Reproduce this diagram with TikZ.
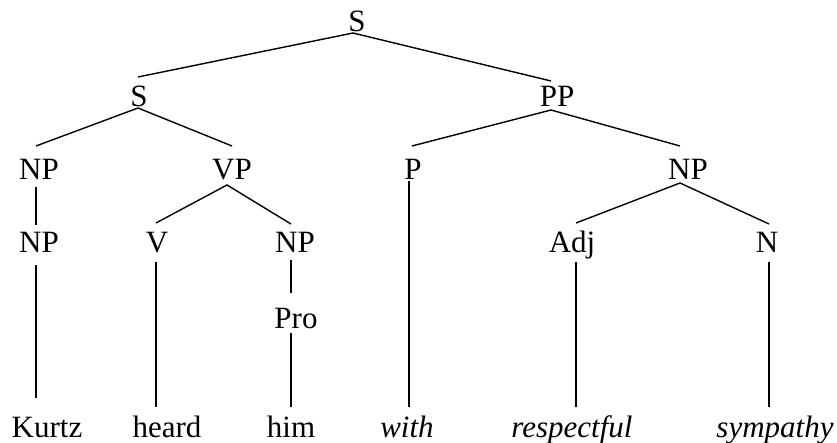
\documentclass[tikz,border=0pt]{standalone}
\usepackage{fontspec}
\setmainfont{Liberation Serif}
\begin{document}
\begin{tikzpicture}[x=1pt,y=-1pt,
  lab/.style={anchor=base,inner sep=0pt,font=\fontsize{31}{36}\selectfont},
  word/.style={lab},
  branch/.style={line width=1.4pt,line cap=butt}]
\useasboundingbox (0,0) rectangle (837,443);

% category labels
\node[lab] (S0)  at (357,32)  {S};
\node[lab] (S1)  at (139,107) {S};
\node[lab] (PP)  at (557,107) {PP};
\node[lab] (NP1) at (39,180)  {NP};
\node[lab] (VP)  at (232,180) {VP};
\node[lab] (P)   at (413,180) {P};
\node[lab] (NP4) at (688,180) {NP};
\node[lab] (NP2) at (39,253)  {NP};
\node[lab] (V)   at (157,253) {V};
\node[lab] (NP3) at (295,253) {NP};
\node[lab] (Adj) at (572,253) {Adj};
\node[lab] (N)   at (767,253) {N};
\node[lab] (Pro) at (296,328) {Pro};

% terminal words
\node[word] (w1) at (47,437)  {Kurtz};
\node[word] (w2) at (167,437) {heard};
\node[word] (w3) at (291,437) {him};
\node[word] (w4) at (407,437) {\itshape with};
\node[word] (w5) at (572,437) {\itshape respectful};
\node[word] (w6) at (775,437) {\itshape sympathy};

% attachment points of the branches
\coordinate (S0-dn)  at (353,33);
\coordinate (S1-up)  at (138,77);
\coordinate (PP-up)  at (551,81);
\coordinate (S1-dn)  at (138,108);
\coordinate (NP1-up) at (36,146);
\coordinate (VP-up)  at (232,146);
\coordinate (PP-dn)  at (551,110);
\coordinate (P-up)   at (412,146);
\coordinate (NP4-up) at (680,146);
\coordinate (NP1-dn) at (36,187);
\coordinate (NP2-up) at (36,225);
\coordinate (VP-dn)  at (227,185);
\coordinate (V-up)   at (156,223);
\coordinate (NP3-up) at (291,224);
\coordinate (NP4-dn) at (680,183);
\coordinate (Adj-up) at (576,223);
\coordinate (N-up)   at (769,224);
\coordinate (NP2-dn) at (36,265);
\coordinate (w1-up)  at (36,398);
\coordinate (V-dn)   at (156,262);
\coordinate (w2-up)  at (156,407);
\coordinate (NP3-dn) at (291,260);
\coordinate (Pro-up) at (291,293);
\coordinate (Pro-dn) at (291,333);
\coordinate (w3-up)  at (291,407);
\coordinate (P-dn)   at (409,181);
\coordinate (w4-up)  at (409,407);
\coordinate (Adj-dn) at (576,262);
\coordinate (w5-up)  at (576,407);
\coordinate (N-dn)   at (769,262);
\coordinate (w6-up)  at (769,407);

% branches
\draw[branch] (S1-up) -- (S0-dn) -- (PP-up);
\draw[branch] (NP1-up) -- (S1-dn) -- (VP-up);
\draw[branch] (P-up) -- (PP-dn) -- (NP4-up);
\draw[branch] (NP1-dn) -- (NP2-up);
\draw[branch] (V-up) -- (VP-dn) -- (NP3-up);
\draw[branch] (Adj-up) -- (NP4-dn) -- (N-up);
\draw[branch] (NP2-dn) -- (w1-up);
\draw[branch] (V-dn) -- (w2-up);
\draw[branch] (NP3-dn) -- (Pro-up);
\draw[branch] (Pro-dn) -- (w3-up);
\draw[branch] (P-dn) -- (w4-up);
\draw[branch] (Adj-dn) -- (w5-up);
\draw[branch] (N-dn) -- (w6-up);
\end{tikzpicture}
\end{document}
